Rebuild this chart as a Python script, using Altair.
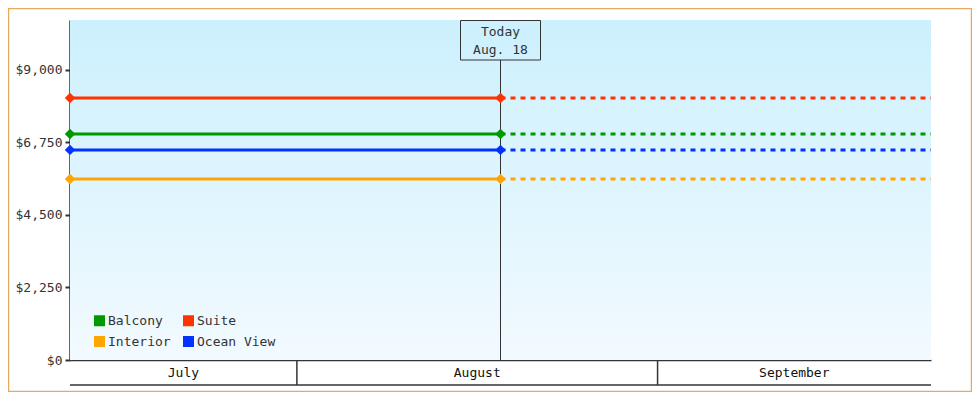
import altair as alt
import pandas as pd

# ---- data ----
series = ["Balcony", "Interior", "Suite", "Ocean View"]
prices = [7010, 5620, 8130, 6520]
colors = ["#009900", "#FFA500", "#FF3300", "#0033FF"]
start_date = "2024-07-12T12:00:00Z"
today_date = "2024-08-18T12:00:00Z"
end_date = "2024-09-24T12:00:00Z"
today_text = "Today\nAug. 18"
month_starts = ["2024-08-01T00:00:00Z", "2024-09-01T00:00:00Z"]
month_names = ["July", "August", "September"]
month_label_dates = ["2024-07-22T06:00:00Z", "2024-08-16T12:00:00Z", "2024-09-12T18:00:00Z"]
y_ticks = [0, 2250, 4500, 6750, 9000]
y_max = 10550

W, H = 861, 340
FONT = "DejaVu Sans Mono"
INK = "#333333"

rows = []
for s, p in zip(series, prices):
    rows.append({"series": s, "date": start_date, "price": p, "seg": "actual"})
    rows.append({"series": s, "date": today_date, "price": p, "seg": "actual"})
    rows.append({"series": s, "date": today_date, "price": p, "seg": "forecast"})
    rows.append({"series": s, "date": end_date, "price": p, "seg": "forecast"})
lines_df = pd.DataFrame(rows)
points_df = lines_df[lines_df["seg"] == "actual"]

one = pd.DataFrame({"k": [0]})
today_df = pd.DataFrame({"date": [today_date], "label": [today_text]})
sep_df = pd.DataFrame({"date": month_starts})
month_df = pd.DataFrame({"date": month_label_dates, "name": month_names})

xscale = alt.Scale(type="utc", nice=False)
xenc = alt.X("date:T", scale=xscale,
             axis=alt.Axis(title=None, labels=False, ticks=False, grid=False,
                           domainColor=INK, domainWidth=1.5))
yenc = alt.Y("price:Q", scale=alt.Scale(domain=[0, y_max], nice=False, zero=True),
             axis=alt.Axis(title=None, values=y_ticks, format="$,.0f", grid=False,
                           domainColor=INK, domainWidth=2.5, tickColor=INK, tickWidth=2,
                           tickSize=5, labelFont=FONT, labelFontSize=13, labelColor=INK,
                           labelPadding=3))
legend = alt.Legend(title=None, orient="none", legendX=23, legendY=294, columns=2,
                    symbolType="square", symbolSize=121, symbolStrokeWidth=0,
                    labelFont=FONT, labelFontSize=13, labelColor=INK,
                    columnPadding=11, rowPadding=7, labelOffset=2)
cscale = alt.Scale(domain=series, range=colors)

bg = alt.Chart(one).mark_rect(
    color=alt.Gradient(gradient="linear",
                       stops=[alt.GradientStop(color="#CCF0FD", offset=0),
                              alt.GradientStop(color="#F2FAFF", offset=1)],
                       x1=0, x2=0, y1=0, y2=1)
).encode(x=alt.value(0), x2=alt.value(W), y=alt.value(0), y2=alt.value(H))

border = alt.Chart(one).mark_rect(fill=None, stroke="#E8A860", strokeWidth=1.5).encode(
    x=alt.value(-61.5), x2=alt.value(901.5), y=alt.value(-11.5), y2=alt.value(371.5))

today_rule = alt.Chart(today_df).mark_rule(color=INK, strokeWidth=1).encode(
    x=alt.X("date:T", scale=xscale), y=alt.value(40), y2=alt.value(H))

today_box = alt.Chart(today_df).mark_rect(fill=None, stroke=INK, strokeWidth=1,
                                          xOffset=-40, x2Offset=40).encode(
    x=alt.X("date:T", scale=xscale), x2="date:T", y=alt.value(0.5), y2=alt.value(40))

today_label = alt.Chart(today_df).mark_text(font=FONT, fontSize=13, color=INK,
                                            lineBreak="\n", lineHeight=18,
                                            baseline="middle", align="center").encode(
    x=alt.X("date:T", scale=xscale), y=alt.value(12), text="label:N")

lines = alt.Chart(lines_df).mark_line(strokeWidth=3).encode(
    x=xenc, y=yenc, color=alt.Color("series:N", scale=cscale, legend=None),
    strokeDash=alt.StrokeDash("seg:N", scale=alt.Scale(domain=["actual", "forecast"],
                                                       range=[[1, 0], [5, 5]]), legend=None),
    detail="series:N")

points = alt.Chart(points_df).mark_point(shape="diamond", filled=True, size=110, opacity=1).encode(
    x=alt.X("date:T", scale=xscale), y="price:Q",
    color=alt.Color("series:N", scale=cscale, legend=legend))

seps = alt.Chart(sep_df).mark_rule(color=INK, strokeWidth=1.5).encode(
    x=alt.X("date:T", scale=xscale), y=alt.value(H), y2=alt.value(H + 25))

bottom = alt.Chart(one).mark_rule(color=INK, strokeWidth=1.5).encode(
    x=alt.value(0), x2=alt.value(W), y=alt.value(H + 25))

months = alt.Chart(month_df).mark_text(font=FONT, fontSize=13, color="#111111",
                                       baseline="middle", align="center").encode(
    x=alt.X("date:T", scale=xscale), y=alt.value(H + 13), text="name:N")

chart = alt.layer(bg, border, today_rule, today_box, lines, points, today_label,
                  seps, bottom, months).resolve_legend(color="independent").properties(
    width=W, height=H,
    autosize=alt.AutoSizeParams(type="none"),
    padding={"left": 62, "top": 12, "right": 41, "bottom": 32},
    background="white",
).configure_view(stroke=None)

chart.save("out.html", embed_options={"renderer": "svg", "actions": False})
